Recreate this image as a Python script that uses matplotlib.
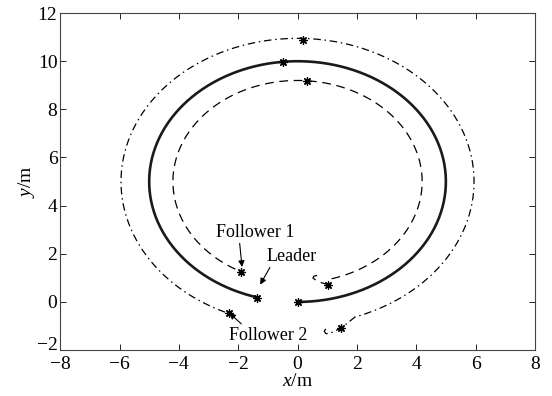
import numpy as np
import matplotlib
matplotlib.use("Agg")
import matplotlib.pyplot as plt
from matplotlib.transforms import ScaledTranslation

plt.rcParams['font.family'] = 'Liberation Serif'
plt.rcParams['mathtext.fontset'] = 'custom'
plt.rcParams['mathtext.rm'] = 'Liberation Serif'
plt.rcParams['mathtext.it'] = 'Liberation Serif:italic'

# circular reference path, centre (0, 5)
center = (0.0, 5.0)

# leader: radius, start / end angle (deg)
leader_r = 5.0
leader_ang = (-90.0, 254.3)
leader_marks_x = [0.0, -0.49, -1.36]
leader_marks_y = [0.0, 9.97, 0.16]

# follower 1 (inner): initial transient points, then arc
f1_start_x = [0.66, 0.55, 0.52, 0.60, 0.80, 1.03]
f1_start_y = [1.10, 1.07, 0.99, 0.92, 0.80, 0.72]
f1_r = 4.2
f1_ang = (-74.0, 243.3)
f1_marks_x = [1.03, 0.32, -1.90]
f1_marks_y = [0.72, 9.17, 1.23]

# follower 2 (outer): initial transient points, then arc
f2_start_x = [0.95, 0.90, 0.96, 1.10, 1.48]
f2_start_y = [-1.12, -1.22, -1.32, -1.30, -1.08]
f2_r = 5.95
f2_ang = (-71.0, 247.1)
f2_marks_x = [1.48, 0.19, -2.31]
f2_marks_y = [-1.08, 10.87, -0.47]

star = (8, 2, 0)


def arc(r, ang):
    t = np.radians(np.linspace(ang[0], ang[1], 400))
    return center[0] + r * np.cos(t), center[1] + r * np.sin(t)


fig = plt.figure(figsize=(5.52, 3.96), dpi=100)
ax = fig.add_axes([0.109, 0.116, 0.86, 0.851])

lx, ly = arc(leader_r, leader_ang)
ax.plot(lx, ly, color='#1a1a1a', lw=1.9, ls='-')
ax.plot(leader_marks_x, leader_marks_y, ls='none', marker=star,
        color='black', ms=6, mew=0.9)

ax_, ay_ = arc(f1_r, f1_ang)
ax.plot(np.concatenate([f1_start_x, ax_]), np.concatenate([f1_start_y, ay_]),
        color='black', lw=0.9, ls=(0, (7, 4.5)))
ax.plot(f1_marks_x, f1_marks_y, ls='none', marker=star,
        color='black', ms=6, mew=0.9)

bx, by = arc(f2_r, f2_ang)
ax.plot(np.concatenate([f2_start_x, bx]), np.concatenate([f2_start_y, by]),
        color='black', lw=0.9, ls=(0, (6, 3, 1.2, 3)))
ax.plot(f2_marks_x, f2_marks_y, ls='none', marker=star,
        color='black', ms=6, mew=0.9)

arrow = dict(arrowstyle='-|>', color='black', lw=0.8, mutation_scale=9,
             shrinkA=0, shrinkB=0)
ax.annotate('Follower 1', xy=(-1.87, 1.45), xytext=(-1.43, 2.9),
            ha='center', va='center', fontsize=13,
            arrowprops=dict(arrow, relpos=(0.3, 0.0)))
ax.annotate('Leader', xy=(-1.26, 0.72), xytext=(-0.2, 1.9),
            ha='center', va='center', fontsize=13,
            arrowprops=dict(arrow, relpos=(0.1, 0.0)))
ax.annotate('Follower 2', xy=(-2.3, -0.46), xytext=(-1.0, -1.38),
            ha='center', va='center', fontsize=13,
            arrowprops=dict(arrow, relpos=(0.2, 1.0)))

ax.set_xlim(-8, 8)
ax.set_ylim(-2, 12)
ax.set_xticks(np.arange(-8, 9, 2))
ax.set_yticks(np.arange(-2, 13, 2))
ax.tick_params(direction='in', length=4, width=0.6, labelsize=14,
               top=True, right=True)
ax.tick_params(axis='x', pad=4)
ax.tick_params(axis='y', pad=2)
for s in ax.spines.values():
    s.set_linewidth(0.8)
    s.set_color('#444444')
ax.set_xlabel('$x$/m', fontsize=14, labelpad=0)
ax.set_ylabel('$y$/m', fontsize=14, labelpad=0)

# lift the lowest y label a little so it clears the first x label
lowest = ax.get_yticklabels()[0]
lowest.set_transform(lowest.get_transform() +
                     ScaledTranslation(0, 5 / 72, fig.dpi_scale_trans))

fig.savefig('out.png', dpi=100)
